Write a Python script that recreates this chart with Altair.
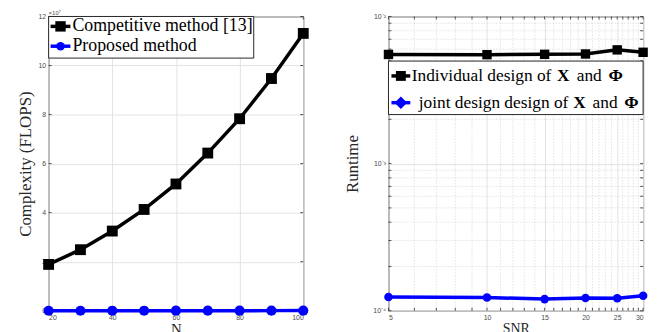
import altair as alt
import pandas as pd

# ---------------- data ----------------
N = [20, 30, 40, 50, 60, 70, 80, 90, 100]
competitive = [1.89, 2.49, 3.25, 4.13, 5.17, 6.43, 7.83, 9.47, 11.31]   # x 10^7 FLOPS
proposed = [0.001, 0.001, 0.002, 0.002, 0.003, 0.003, 0.004, 0.005, 0.006]  # x 10^7 FLOPS

SNR = [5, 10, 15, 20, 25, 30]
individual = [5.52e-3, 5.50e-3, 5.53e-3, 5.56e-3, 5.93e-3, 5.71e-3]
joint = [1.24e-4, 1.23e-4, 1.20e-4, 1.22e-4, 1.215e-4, 1.265e-4]

left_x_ticks = [20, 40, 60, 80, 100]
left_y_ticks = [0, 2, 4, 6, 8, 10, 12]
right_x_ticks = [5, 10, 15, 20, 25, 30]
right_y_ticks = [1e-4, 1e-3, 1e-2]
right_minor_x = [6, 7, 8, 9, 11, 12, 13, 14, 16, 17, 18, 19, 21, 22, 23, 24, 26, 27, 28, 29]
right_minor_y = [2e-4, 3e-4, 4e-4, 5e-4, 6e-4, 7e-4, 8e-4, 9e-4,
                 2e-3, 3e-3, 4e-3, 5e-3, 6e-3, 7e-3, 8e-3, 9e-3]

left_names = ["Competitive method [13]", "Proposed method"]
right_names = ["Individual design of X and \u03a6", "joint design design of X and \u03a6"]

# ---------------- frames ----------------
df_left = pd.DataFrame({
    "N": N * 2,
    "value": competitive + proposed,
    "series": [left_names[0]] * len(N) + [left_names[1]] * len(N),
})
df_right = pd.DataFrame({
    "SNR": SNR * 2,
    "value": individual + joint,
    "series": [right_names[0]] * len(SNR) + [right_names[1]] * len(SNR),
})
one = pd.DataFrame({"k": [0]})

W, H = 257, 297
SERIF = "Liberation Serif"
SANS = "Liberation Sans"
FRAME = "#262626"
TL = 3  # tick length (inward)

axis_common = dict(
    grid=True, gridColor="#e3e3e3", gridWidth=1, domain=False, ticks=False,
    labelFont=SANS, labelFontSize=7, labelColor="#4d4d4d", labelPadding=3,
    titleFont=SERIF, titleFontWeight="normal", titleColor=FRAME,
)


def xticks(values, scale):
    d = alt.Chart(pd.DataFrame({"tx": values}))
    b = d.mark_rule(color=FRAME, strokeWidth=0.8).encode(
        x=alt.X("tx:Q", scale=scale), y=alt.value(H), y2=alt.value(H - TL))
    t = d.mark_rule(color=FRAME, strokeWidth=0.8).encode(
        x=alt.X("tx:Q", scale=scale), y=alt.value(0), y2=alt.value(TL))
    return b + t


def yticks(values, scale):
    d = alt.Chart(pd.DataFrame({"ty": values}))
    l = d.mark_rule(color=FRAME, strokeWidth=0.8).encode(
        y=alt.Y("ty:Q", scale=scale), x=alt.value(0), x2=alt.value(TL))
    r = d.mark_rule(color=FRAME, strokeWidth=0.8).encode(
        y=alt.Y("ty:Q", scale=scale), x=alt.value(W), x2=alt.value(W - TL))
    return l + r


def leg_item(y, color, shape, size, x0, x1):
    r = alt.Chart(one).mark_rule(color=color, strokeWidth=3.5).encode(
        x=alt.value(x0), x2=alt.value(x1), y=alt.value(y))
    p = alt.Chart(one).mark_point(filled=True, opacity=1, color=color, shape=shape, size=size).encode(
        x=alt.value((x0 + x1) / 2), y=alt.value(y))
    return r + p


def txt(s, x, y, size, bold=False):
    return alt.Chart(one).mark_text(font=SERIF, fontSize=size, color="#000000", align="left",
                                    baseline="middle",
                                    fontWeight="bold" if bold else "normal").encode(
        x=alt.value(x), y=alt.value(y), text=alt.value(s))


# ---------------- left panel ----------------
lx = alt.Scale(domain=[20, 100], nice=False, zero=False)
ly = alt.Scale(domain=[0, 12], nice=False)
lcolor = alt.Scale(domain=left_names, range=["#000000", "#0000ff"])
lshape = alt.Scale(domain=left_names, range=["square", "circle"])

lx_axis = alt.Axis(values=left_x_ticks, title="N", titleFontSize=15, titlePadding=1, **axis_common)
ly_axis = alt.Axis(values=left_y_ticks, title="Complexity (FLOPS)", titleFontSize=17,
                   titlePadding=4, format="d", **axis_common)

left_line = alt.Chart(df_left).mark_line(strokeWidth=3.5).encode(
    x=alt.X("N:Q", scale=lx, axis=lx_axis),
    y=alt.Y("value:Q", scale=ly, axis=ly_axis),
    color=alt.Color("series:N", scale=lcolor, legend=None),
)
left_pts = alt.Chart(df_left).mark_point(filled=True, opacity=1).encode(
    x=alt.X("N:Q", scale=lx, axis=lx_axis),
    y=alt.Y("value:Q", scale=ly, axis=ly_axis),
    color=alt.Color("series:N", scale=lcolor, legend=None),
    shape=alt.Shape("series:N", scale=lshape, legend=None),
    size=alt.Size("series:N", scale=alt.Scale(domain=left_names, range=[120, 75]), legend=None),
)

exp_label = alt.Chart(one).mark_text(font=SANS, fontSize=6, color="#4d4d4d", align="left",
                                     baseline="bottom").encode(
    x=alt.value(0), y=alt.value(0), text=alt.value("\u00d710\u2077"))

lbox = alt.Chart(one).mark_rect(fill="white", stroke=FRAME, strokeWidth=1).encode(
    x=alt.value(0), x2=alt.value(207), y=alt.value(0), y2=alt.value(42))

left = alt.layer(
    xticks(left_x_ticks, lx), yticks(left_y_ticks, ly),
    left_line, left_pts, exp_label, lbox,
    leg_item(10, "#000000", "square", 110, 2, 22),
    leg_item(30, "#0000ff", "circle", 75, 2, 22),
    txt("Competitive method [13]", 24, 10, 18),
    txt("Proposed method", 24, 30, 18),
).properties(width=W, height=H)

# ---------------- right panel ----------------
rx = alt.Scale(type="log", domain=[5, 30], nice=False)
ry = alt.Scale(type="log", domain=[1e-4, 1e-2], nice=False)
rcolor = alt.Scale(domain=right_names, range=["#000000", "#0000ff"])
rshape = alt.Scale(domain=right_names, range=["square", "diamond"])

rx_axis = alt.Axis(values=right_x_ticks, title="SNR", titleFontSize=14, titlePadding=1,
                   format="d", **axis_common)
ry_axis = alt.Axis(
    values=right_y_ticks, title="Runtime", titleFontSize=17, titlePadding=11,
    labelExpr="datum.value < 0.0005 ? '10\u207b\u2074' : (datum.value < 0.005 ? '10\u207b\u00b3' : '10\u207b\u00b2')",
    **axis_common)

minor_x = alt.Chart(pd.DataFrame({"mx": right_minor_x})).mark_rule(
    color="#dcdcdc", strokeWidth=0.8, strokeDash=[1.5, 1.5]).encode(
    x=alt.X("mx:Q", scale=rx, axis=rx_axis))
minor_y = alt.Chart(pd.DataFrame({"my": right_minor_y})).mark_rule(
    color="#dcdcdc", strokeWidth=0.8, strokeDash=[1.5, 1.5]).encode(
    y=alt.Y("my:Q", scale=ry, axis=ry_axis))

right_line = alt.Chart(df_right).mark_line(strokeWidth=3.5).encode(
    x=alt.X("SNR:Q", scale=rx, axis=rx_axis),
    y=alt.Y("value:Q", scale=ry, axis=ry_axis),
    color=alt.Color("series:N", scale=rcolor, legend=None),
)
right_pts = alt.Chart(df_right).mark_point(filled=True, opacity=1).encode(
    x=alt.X("SNR:Q", scale=rx, axis=rx_axis),
    y=alt.Y("value:Q", scale=ry, axis=ry_axis),
    color=alt.Color("series:N", scale=rcolor, legend=None),
    shape=alt.Shape("series:N", scale=rshape, legend=None),
    size=alt.Size("series:N", scale=alt.Scale(domain=right_names, range=[110, 180]), legend=None),
)

rbox = alt.Chart(one).mark_rect(fill="white", stroke=FRAME, strokeWidth=1).encode(
    x=alt.value(0), x2=alt.value(W), y=alt.value(45), y2=alt.value(99))

FS = 17.5
right = alt.layer(
    minor_x, minor_y,
    xticks(right_x_ticks + right_minor_x, rx), yticks(right_y_ticks + right_minor_y, ry),
    right_line, right_pts, rbox,
    leg_item(60, "#000000", "square", 100, 3, 22),
    leg_item(87, "#0000ff", "diamond", 160, 3, 22),
    txt("Individual design of", 23.5, 60, FS),
    txt("X", 170, 60, FS, True),
    txt("and", 190, 60, FS),
    txt("\u03a6", 222, 60, FS, True),
    txt("joint design design of", 30.5, 87, FS),
    txt("X", 186.5, 87, FS, True),
    txt("and", 206, 87, FS),
    txt("\u03a6", 238, 87, FS, True),
).properties(width=W, height=H)

chart = alt.hconcat(left, right, spacing=32).properties(
    padding={"left": 7, "top": 0, "right": 5, "bottom": 5}
).configure_view(stroke=FRAME, strokeWidth=1)

chart.save("out.html", embed_options={"renderer": "svg", "actions": False})
